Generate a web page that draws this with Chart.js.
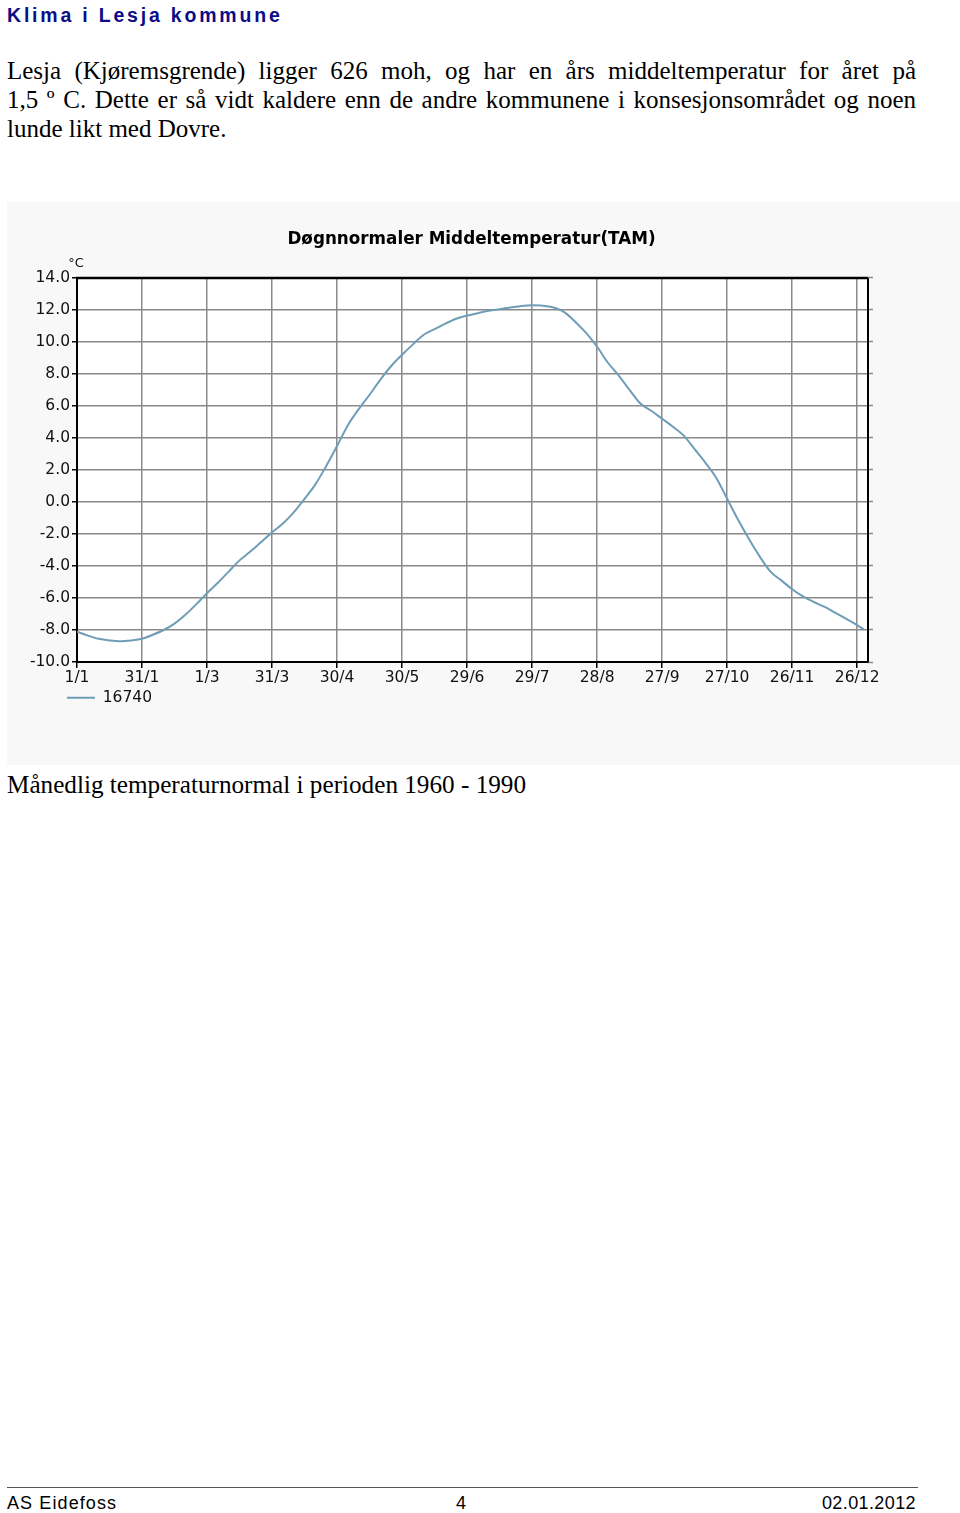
<!DOCTYPE html>
<html><head><meta charset="utf-8">
<script src="https://cdn.jsdelivr.net/npm/chart.js@4.4.1/dist/chart.umd.min.js"></script>
<style>
html,body{margin:0;padding:0;background:#fff;}
body{width:960px;height:1513px;position:relative;overflow:hidden;}
.h{position:absolute;left:7px;top:5px;font:bold 19.5px "Liberation Sans",Arial,sans-serif;line-height:20px;color:#0c0c86;letter-spacing:2.8px;white-space:nowrap;}
.p{position:absolute;left:7px;width:909px;font:25px "Liberation Serif","Times New Roman",serif;line-height:28.8px;color:#000;}
.p div.j{text-align:justify;text-align-last:justify;}
.cap{position:absolute;left:7px;top:771px;font:25.2px "Liberation Serif","Times New Roman",serif;line-height:28.8px;color:#000;white-space:nowrap;}
#box{position:absolute;left:7px;top:202px;width:953px;height:563px;background:#f8f8f8;}
#c{position:absolute;left:0;top:0;}
.fl{position:absolute;left:7px;top:1487px;width:911px;height:0;border-top:1.5px solid #555;}
.ft{position:absolute;top:1493px;font:18px "Liberation Sans",Arial,sans-serif;line-height:20px;color:#000;letter-spacing:1.1px;white-space:nowrap;}
</style></head>
<body>
<div class="h">Klima i Lesja kommune</div>
<div class="p" style="top:57px;">
<div class="j">Lesja (Kjøremsgrende) ligger 626 moh, og har en års middeltemperatur for året på</div>
<div class="j">1,5 º C. Dette er så vidt kaldere enn de andre kommunene i konsesjonsområdet og noen</div>
<div>lunde likt med Dovre.</div>
</div>
<div id="box"><canvas id="c" width="953" height="563"></canvas></div>
<div class="cap">Månedlig temperaturnormal i perioden 1960 - 1990</div>
<div class="fl"></div>
<div class="ft" style="left:7px;">AS Eidefoss</div>
<div class="ft" style="left:456px;">4</div>
<div class="ft" style="right:44px;letter-spacing:0.4px;">02.01.2012</div>
<script>
const chartTitle = 'Døgnnormaler Middeltemperatur(TAM)';
const unitLabel = '°C';
const seriesName = '16740';
const tickDays = [0,30,60,90,120,150,180,210,240,270,300,330,360];
const tickLabels = ['1/1','31/1','1/3','31/3','30/4','30/5','29/6','29/7','28/8','27/9','27/10','26/11','26/12'];
const yTicks = [-10,-8,-6,-4,-2,0,2,4,6,8,10,12,14];
const days = [0,5,10,15,20,25,30,35,40,45,50,55,60,65,70,75,80,85,90,95,100,105,110,115,120,125,130,135,140,145,150,155,160,165,170,175,180,185,190,195,200,205,210,215,220,225,230,235,240,245,250,255,260,265,270,275,280,285,290,295,300,305,310,315,320,325,330,335,340,345,350,355,360,363];
const temps = [-8.1,-8.35,-8.55,-8.65,-8.7,-8.65,-8.55,-8.3,-8.0,-7.6,-7.05,-6.4,-5.7,-5.05,-4.35,-3.65,-3.1,-2.5,-1.9,-1.35,-0.65,0.2,1.1,2.25,3.5,4.8,5.8,6.7,7.65,8.5,9.2,9.85,10.45,10.8,11.15,11.45,11.65,11.8,11.95,12.05,12.15,12.25,12.29,12.27,12.15,11.85,11.25,10.55,9.7,8.7,7.9,7.0,6.15,5.7,5.2,4.7,4.15,3.3,2.45,1.5,0.2,-1.1,-2.3,-3.4,-4.35,-4.9,-5.45,-5.9,-6.25,-6.56,-6.93,-7.3,-7.69,-7.96];

const FONT = 'DejaVu Sans';
const lineColor = '#6f9db8';

const framePlugin = {
  id: 'frame',
  afterDraw(chart) {
    const {ctx, chartArea: a} = chart;
    ctx.save();
    ctx.strokeStyle = '#000';
    ctx.lineWidth = 2.5;
    ctx.beginPath();
    ctx.moveTo(a.left - 1, a.top);
    ctx.lineTo(a.right, a.top);
    ctx.stroke();
    ctx.lineWidth = 2;
    ctx.beginPath();
    ctx.moveTo(a.right, a.top);
    ctx.lineTo(a.right, a.bottom);
    ctx.stroke();
    ctx.fillStyle = '#111';
    ctx.font = '13px "DejaVu Sans"';
    ctx.textAlign = 'center';
    ctx.textBaseline = 'middle';
    ctx.fillText(unitLabel, a.left - 1, a.top - 14);
    ctx.restore();
  }
};
const plotBg = {
  id: 'plotBg',
  beforeDraw(chart) {
    const {ctx, chartArea: a} = chart;
    ctx.save();
    ctx.fillStyle = '#ffffff';
    ctx.fillRect(a.left, a.top, a.right - a.left, a.bottom - a.top);
    ctx.restore();
  }
};
const boxShift = {
  id: 'boxShift',
  afterLayout(chart) {
    if (chart.legend) { chart.legend.left = 56; }
    const t = chart.titleBlock;
    if (t) {
      const a = chart.chartArea;
      const half = (t.right - t.left) / 2;
      const c = (a.left + a.right) / 2 - 1;
      t.left = c - half; t.right = c + half;
    }
  }
};

new Chart(document.getElementById('c'), {
  type: 'line',
  data: {
    datasets: [{
      label: seriesName,
      data: days.map((d, i) => ({x: d, y: temps[i]})),
      borderColor: lineColor,
      backgroundColor: lineColor,
      borderWidth: 2,
      pointRadius: 0,
      pointStyle: 'line',
      cubicInterpolationMode: 'monotone',
      fill: false
    }]
  },
  options: {
    responsive: false,
    animation: false,
    events: [],
    layout: {padding: {left: 0, right: 87, top: 0, bottom: 49.5}},
    plugins: {
      title: {
        display: true, text: chartTitle, color: '#000',
        font: {family: FONT, size: 16.8, weight: 'bold'},
        padding: {top: 28, bottom: 27.8}
      },
      legend: {
        display: true, position: 'bottom', align: 'start',
        labels: {
          usePointStyle: true, pointStyle: 'line', pointStyleWidth: 28,
          padding: 4, color: '#111',
          font: {family: FONT, size: 15.5}
        }
      },
      tooltip: {enabled: false}
    },
    scales: {
      x: {
        type: 'linear', min: 0, max: 365,
        afterBuildTicks: s => { s.ticks = tickDays.map(v => ({value: v})); },
        afterFit: s => { s.height = 24; },
        grid: {color: '#8a8a8a', lineWidth: 1.5, tickColor: '#000', tickLength: 6, tickWidth: 1.5},
        border: {color: '#000', width: 2},
        ticks: {
          color: '#111', padding: 1, maxRotation: 0, autoSkip: false,
          font: {family: FONT, size: 15.5},
          callback: (v) => { const i = tickDays.indexOf(v); return i >= 0 ? tickLabels[i] : ''; }
        }
      },
      y: {
        type: 'linear', position: 'left', min: -10, max: 14,
        afterBuildTicks: s => { s.ticks = yTicks.map(v => ({value: v})); },
        afterFit: s => { s.width = 70; },
        grid: {color: '#8a8a8a', lineWidth: 1.5, tickColor: '#000', tickLength: 5, tickWidth: 1.5},
        border: {color: '#000', width: 2},
        ticks: {
          color: '#111', padding: 2,
          font: {family: FONT, size: 15.5},
          callback: v => Number(v).toFixed(1)
        }
      },
      yR: {
        type: 'linear', position: 'right', min: -10, max: 14,
        afterBuildTicks: s => { s.ticks = yTicks.map(v => ({value: v})); },
        afterFit: s => { s.width = 5; },
        grid: {drawOnChartArea: false, color: '#8a8a8a', tickColor: '#8a8a8a', tickLength: 5, tickWidth: 1.5},
        border: {display: false},
        ticks: {display: false}
      }
    }
  },
  plugins: [plotBg, framePlugin, boxShift]
});
</script>
</body></html>
